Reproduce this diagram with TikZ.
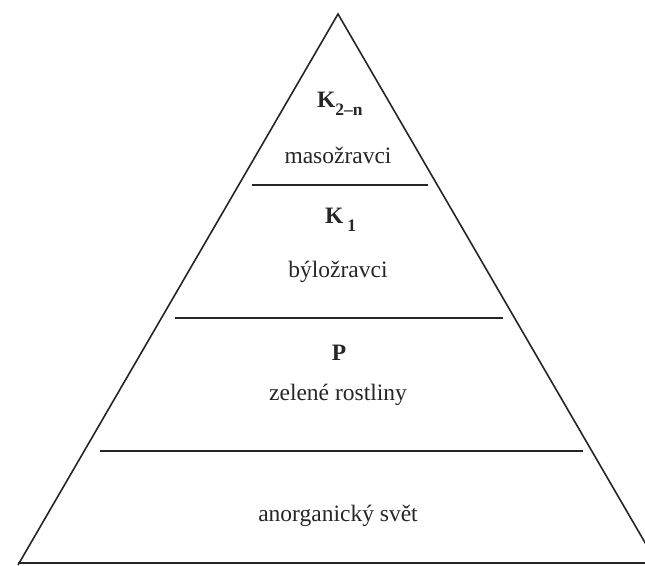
\documentclass[tikz,border=0pt]{standalone}
\usepackage{fontspec}
\setmainfont{Liberation Serif}
\newcommand{\lowsub}[1]{\raisebox{-8pt}{\fontsize{17.5}{20}\selectfont #1}}
\begin{document}
\begin{tikzpicture}[x=1pt,y=-1pt,
  edge/.style={line width=1.6pt,draw=black!85},
  divider/.style={line width=1.6pt,draw=black!85},
  sym/.style={font=\fontsize{23.5}{26}\selectfont\bfseries,text=black!85,inner sep=0pt,anchor=base west},
  lbl/.style={font=\fontsize{23.5}{27}\selectfont,text=black!85,inner sep=0pt}]
\useasboundingbox (0,0) rectangle (645,565);
\clip (0,0) rectangle (645,565);
\fill[white] (0,0) rectangle (645,565);
% pyramid outline
\coordinate (apex) at (338,14);
\coordinate (bl) at (18,565);
\coordinate (br) at (658,565);
\draw[edge,line join=miter] (bl) -- (apex) -- (br);
% dividers
\coordinate (d1l) at (252,185); \coordinate (d1r) at (428,185);
\coordinate (d2l) at (175,318); \coordinate (d2r) at (503,318);
\coordinate (d3l) at (100,451); \coordinate (d3r) at (583,451);
\coordinate (d4l) at (18,563);  \coordinate (d4r) at (660,563);
\draw[divider] (d1l) -- (d1r);
\draw[divider] (d2l) -- (d2r);
\draw[divider] (d3l) -- (d3r);
\draw[divider] (d4l) -- (d4r);
% labels
\node[sym] (k2) at (317,107) {K\lowsub{2–n}};
\node[lbl] (mas) at (338,155) {masožravci};
\node[sym] (k1) at (325,223) {K\,\lowsub{1}};
\node[lbl] (byl) at (338,272) {býložravci};
\node[sym,anchor=base] (p) at (339,360) {P};
\node[lbl] (zel) at (338,395) {zelené rostliny};
\node[lbl] (ano) at (338,516) {anorganický svět};
\end{tikzpicture}
\end{document}
